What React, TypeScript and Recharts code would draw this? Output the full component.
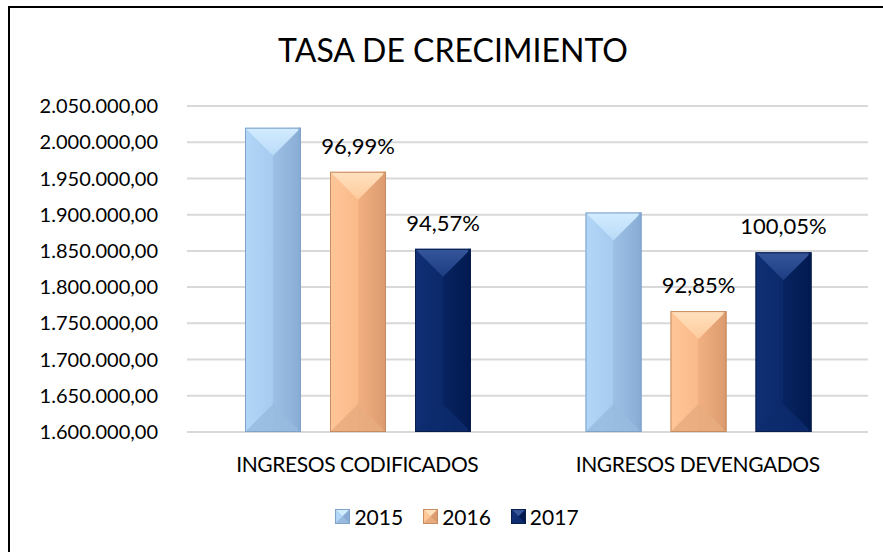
import { BarChart, Bar, XAxis, YAxis, CartesianGrid, LabelList, Legend } from 'recharts';

const categories = ['INGRESOS CODIFICADOS', 'INGRESOS DEVENGADOS'];
const years = ['2015', '2016', '2017'];
const values2015 = [2020000, 1903000];
const values2016 = [1959200, 1766900];
const values2017 = [1852800, 1848000];
const labels2016 = ['96,99%', '92,85%'];
const labels2017 = ['94,57%', '100,05%'];
const yTicks = [1600000, 1650000, 1700000, 1750000, 1800000, 1850000, 1900000, 1950000, 2000000, 2050000];

const FONT = 'Lato, "Noto Sans", sans-serif';

// bevel colours per year: left, mid-left, mid-right, right, top light, top dark, bottom, outline
const palettes = [
  { l: '#B2D6F7', m1: '#A7CBEF', m2: '#9CC0E5', r: '#88ACD4', t1: '#D2ECFF', t2: '#B9DAF7', b: '#98BBDF', s: '#7FA2C9' },
  { l: '#FFC698', m1: '#FABA8A', m2: '#F2B082', r: '#DB9B6E', t1: '#FFE1BE', t2: '#FDCB9D', b: '#E8AB7F', s: '#C68C62' },
  { l: '#102F75', m1: '#0B296A', m2: '#072360', r: '#021A50', t1: '#36569C', t2: '#1D3D82', b: '#0D2C6D', s: '#0A1E4C' },
];

const data = categories.map((name, i) => ({
  name,
  v2015: values2015[i],
  v2016: values2016[i],
  v2017: values2017[i],
  l2016: labels2016[i],
  l2017: labels2017[i],
}));

// "2.050.000,00" style numbers
function fmt(v: number) {
  const s = Math.round(v).toString().replace(/\B(?=(\d{3})+(?!\d))/g, '.');
  return s + ',00';
}

function BevelBar(props: any) {
  const { x, y, width, height, index, series } = props;
  if (!height || height <= 0) return null;
  const c = palettes[series];
  const d = Math.min(28, height / 2);
  const id = `bv-${series}-${index}`;
  return (
    <g>
      <defs>
        <linearGradient id={`${id}-h`} x1="0" y1="0" x2="1" y2="0">
          <stop offset="0" stopColor={c.l} />
          <stop offset="0.5" stopColor={c.m1} />
          <stop offset="0.5" stopColor={c.m2} />
          <stop offset="1" stopColor={c.r} />
        </linearGradient>
        <linearGradient id={`${id}-t`} x1="0" y1="0" x2="0" y2="1">
          <stop offset="0" stopColor={c.t1} />
          <stop offset="1" stopColor={c.t2} />
        </linearGradient>
      </defs>
      <rect x={x} y={y} width={width} height={height} fill={`url(#${id}-h)`} />
      <polygon points={`${x},${y} ${x + width},${y} ${x + width / 2},${y + d}`} fill={`url(#${id}-t)`} />
      <polygon
        points={`${x},${y + height} ${x + width},${y + height} ${x + width / 2},${y + height - d}`}
        fill={c.b}
        opacity={0.85}
      />
      <rect x={x + width - 3} y={y} width={3} height={height} fill={c.r} opacity={0.7} />
      <rect x={x + 0.5} y={y + 0.5} width={width - 1} height={height - 1} fill="none" stroke={c.s} strokeWidth={1} />
    </g>
  );
}

function LegendSquare({ series }: { series: number }) {
  const c = palettes[series];
  return (
    <svg width={15} height={15} style={{ display: 'block' }}>
      <rect x={0} y={0} width={15} height={15} fill={c.m2} />
      <polygon points="0,0 15,0 7.5,7.5" fill={c.t1} />
      <polygon points="0,0 7.5,7.5 0,15" fill={c.l} />
      <polygon points="15,0 15,15 7.5,7.5" fill={c.r} />
      <polygon points="0,15 15,15 7.5,7.5" fill={c.b} />
      <rect x={0.5} y={0.5} width={14} height={14} fill="none" stroke={c.s} strokeWidth={1} />
    </svg>
  );
}

const renderLegend = () => (
  <div style={{ display: 'flex', justifyContent: 'center', fontFamily: FONT, fontSize: 21, color: '#000' }}>
    {years.map((yr, i) => (
      <div key={yr} style={{ display: 'flex', alignItems: 'center', marginRight: i < years.length - 1 ? 20 : 0 }}>
        <LegendSquare series={i} />
        <span style={{ marginLeft: 4, lineHeight: '21px' }}>{yr}</span>
      </div>
    ))}
  </div>
);

export default function App() {
  return (
    <div
      style={{
        position: 'absolute',
        left: 0,
        top: 0,
        width: 883,
        height: 552,
        overflow: 'hidden',
        background: '#fff',
      }}
    >
      {/* frame: only the left and top edges are visible in the crop */}
      <div
        style={{
          position: 'absolute',
          left: 8,
          top: 6,
          width: 1000,
          height: 700,
          borderLeft: '2px solid #000',
          borderTop: '2px solid #000',
        }}
      />
      <div
        style={{
          position: 'absolute',
          left: 0,
          width: 906,
          top: 34,
          textAlign: 'center',
          fontFamily: FONT,
          fontSize: 32,
          lineHeight: '32px',
          color: '#000',
        }}
      >
        TASA DE CRECIMIENTO
      </div>
      <div style={{ position: 'absolute', left: 0, top: 0 }}>
        <BarChart
          width={883}
          height={552}
          data={data}
          margin={{ top: 106, right: 15, bottom: 70, left: 0 }}
          barCategoryGap={58}
          barGap={29}
        >
          <CartesianGrid vertical={false} stroke="#D9D9D9" strokeWidth={2} />
          <XAxis
            dataKey="name"
            axisLine={false}
            tickLine={false}
            tickSize={0}
            tickMargin={25}
            height={50}
            interval={0}
            tick={{ fontSize: 21, fill: '#000', fontFamily: FONT, letterSpacing: -0.4 }}
          />
          <YAxis
            domain={[1600000, 2050000]}
            ticks={yTicks}
            width={187}
            axisLine={false}
            tickLine={false}
            tickSize={0}
            tickMargin={29}
            tickFormatter={fmt}
            tick={{ fontSize: 20, fill: '#000', fontFamily: FONT }}
          />
          <Legend
            verticalAlign="middle"
            align="center"
            layout="horizontal"
            content={renderLegend}
            wrapperStyle={{ left: 0, top: 506, width: 914, height: 24 }}
          />
          <Bar dataKey="v2015" name="2015" isAnimationActive={false} shape={(p: any) => <BevelBar {...p} series={0} />} />
          <Bar dataKey="v2016" name="2016" isAnimationActive={false} shape={(p: any) => <BevelBar {...p} series={1} />}>
            <LabelList dataKey="l2016" position="top" offset={18} fill="#000" fontSize={22} fontFamily={FONT} />
          </Bar>
          <Bar dataKey="v2017" name="2017" isAnimationActive={false} shape={(p: any) => <BevelBar {...p} series={2} />}>
            <LabelList dataKey="l2017" position="top" offset={18} fill="#000" fontSize={22} fontFamily={FONT} />
          </Bar>
        </BarChart>
      </div>
    </div>
  );
}
